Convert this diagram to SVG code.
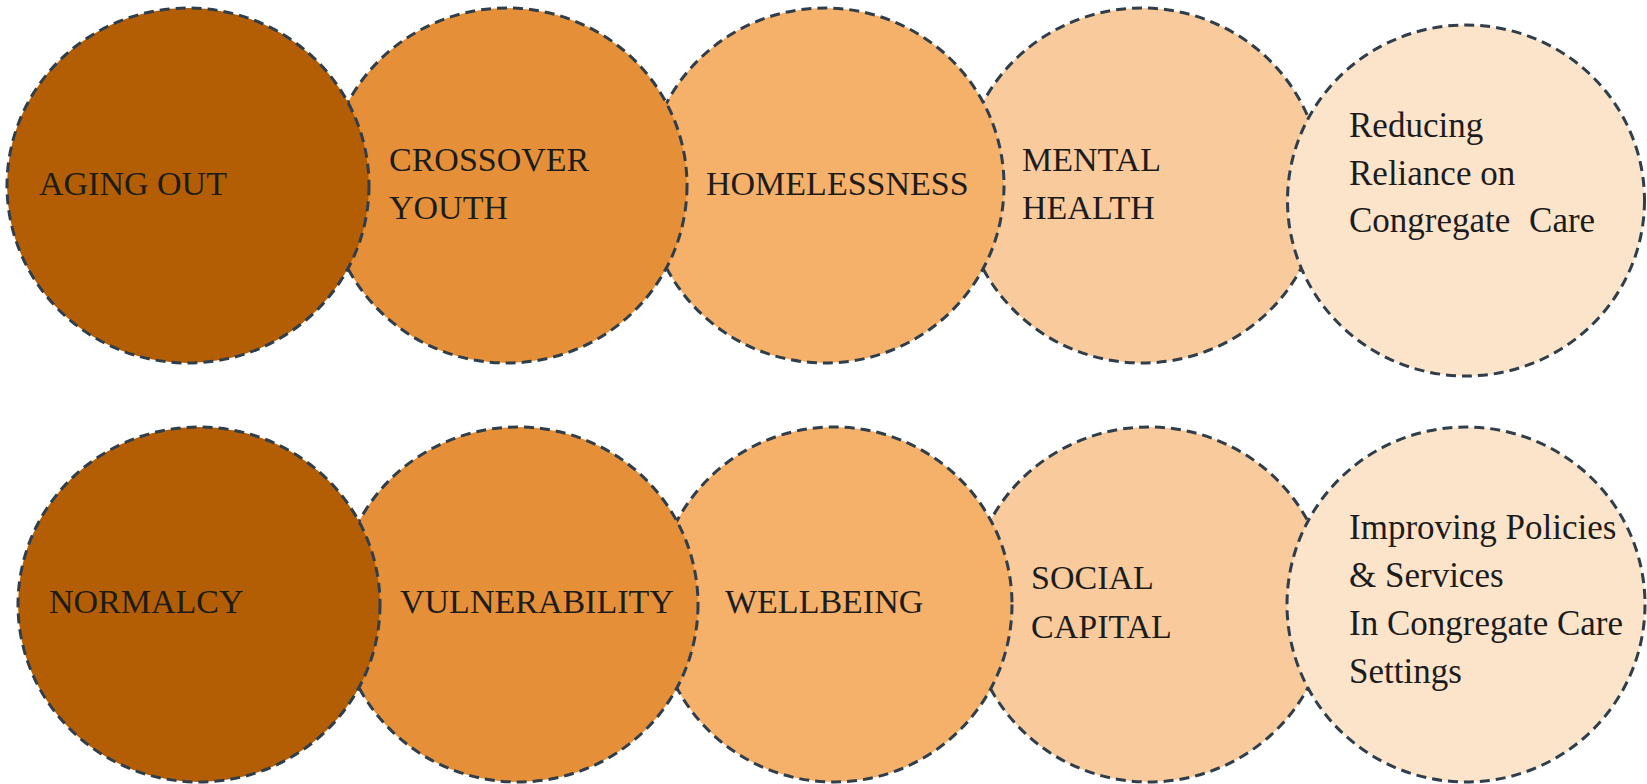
<svg xmlns="http://www.w3.org/2000/svg" width="1647" height="784" viewBox="0 0 1647 784">
<style>
.c{stroke:#2f3e4a;stroke-width:3;stroke-dasharray:10 6}
.f1{fill:#b35e05}.f2{fill:#e59038}.f3{fill:#f5b06a}.f4{fill:#f8ca9c}.f5{fill:#fce4ca}
.t{font-family:"Liberation Serif","Times New Roman",serif;font-size:34px;fill:#1c1c1c}
.big{font-family:"Liberation Serif","Times New Roman",serif;font-size:35px;fill:#1c1c1c}
</style>
<rect width="1647" height="784" fill="#ffffff"/>
<g id="connectors"/>
<g id="mental-health"><ellipse class="c f4" cx="1142" cy="185.5" rx="180" ry="177.5"/><text class="t" x="1022" y="171">MENTAL</text><text class="t" x="1022" y="219">HEALTH</text></g>
<g id="reducing-reliance"><ellipse class="c f5" cx="1466" cy="200.5" rx="178.5" ry="175.5"/><text class="big" x="1349" y="137">Reducing</text><text class="big" x="1349" y="185">Reliance on</text><text class="big" x="1349" y="232" word-spacing="10">Congregate Care</text></g>
<g id="homelessness"><ellipse class="c f3" cx="825" cy="185.5" rx="179" ry="177.5"/><text class="t" x="706" y="195">HOMELESSNESS</text></g>
<g id="crossover-youth"><ellipse class="c f2" cx="507" cy="185.5" rx="180" ry="177.5"/><text class="t" x="389" y="171">CROSSOVER</text><text class="t" x="389" y="219">YOUTH</text></g>
<g id="aging-out"><ellipse class="c f1" cx="188" cy="185.5" rx="181" ry="177.5"/><text class="t" x="39" y="195">AGING OUT</text></g>
<g id="social-capital"><ellipse class="c f4" cx="1149" cy="604.5" rx="180" ry="177.5"/><text class="t" x="1031" y="589">SOCIAL</text><text class="t" x="1031" y="638">CAPITAL</text></g>
<g id="improving-policies"><ellipse class="c f5" cx="1466" cy="604.5" rx="179" ry="177.5"/><text class="big" x="1349" y="539">Improving Policies</text><text class="big" x="1349" y="587">&amp; Services</text><text class="big" x="1349" y="635">In Congregate Care</text><text class="big" x="1349" y="683">Settings</text></g>
<g id="wellbeing"><ellipse class="c f3" cx="834" cy="604.5" rx="178" ry="177.5"/><text class="t" x="725" y="613">WELLBEING</text></g>
<g id="vulnerability"><ellipse class="c f2" cx="518" cy="604.5" rx="180" ry="177.5"/><text class="t" x="400" y="613">VULNERABILITY</text></g>
<g id="normalcy"><ellipse class="c f1" cx="199" cy="604.5" rx="181" ry="177.5"/><text class="t" x="49" y="613">NORMALCY</text></g>
</svg>
